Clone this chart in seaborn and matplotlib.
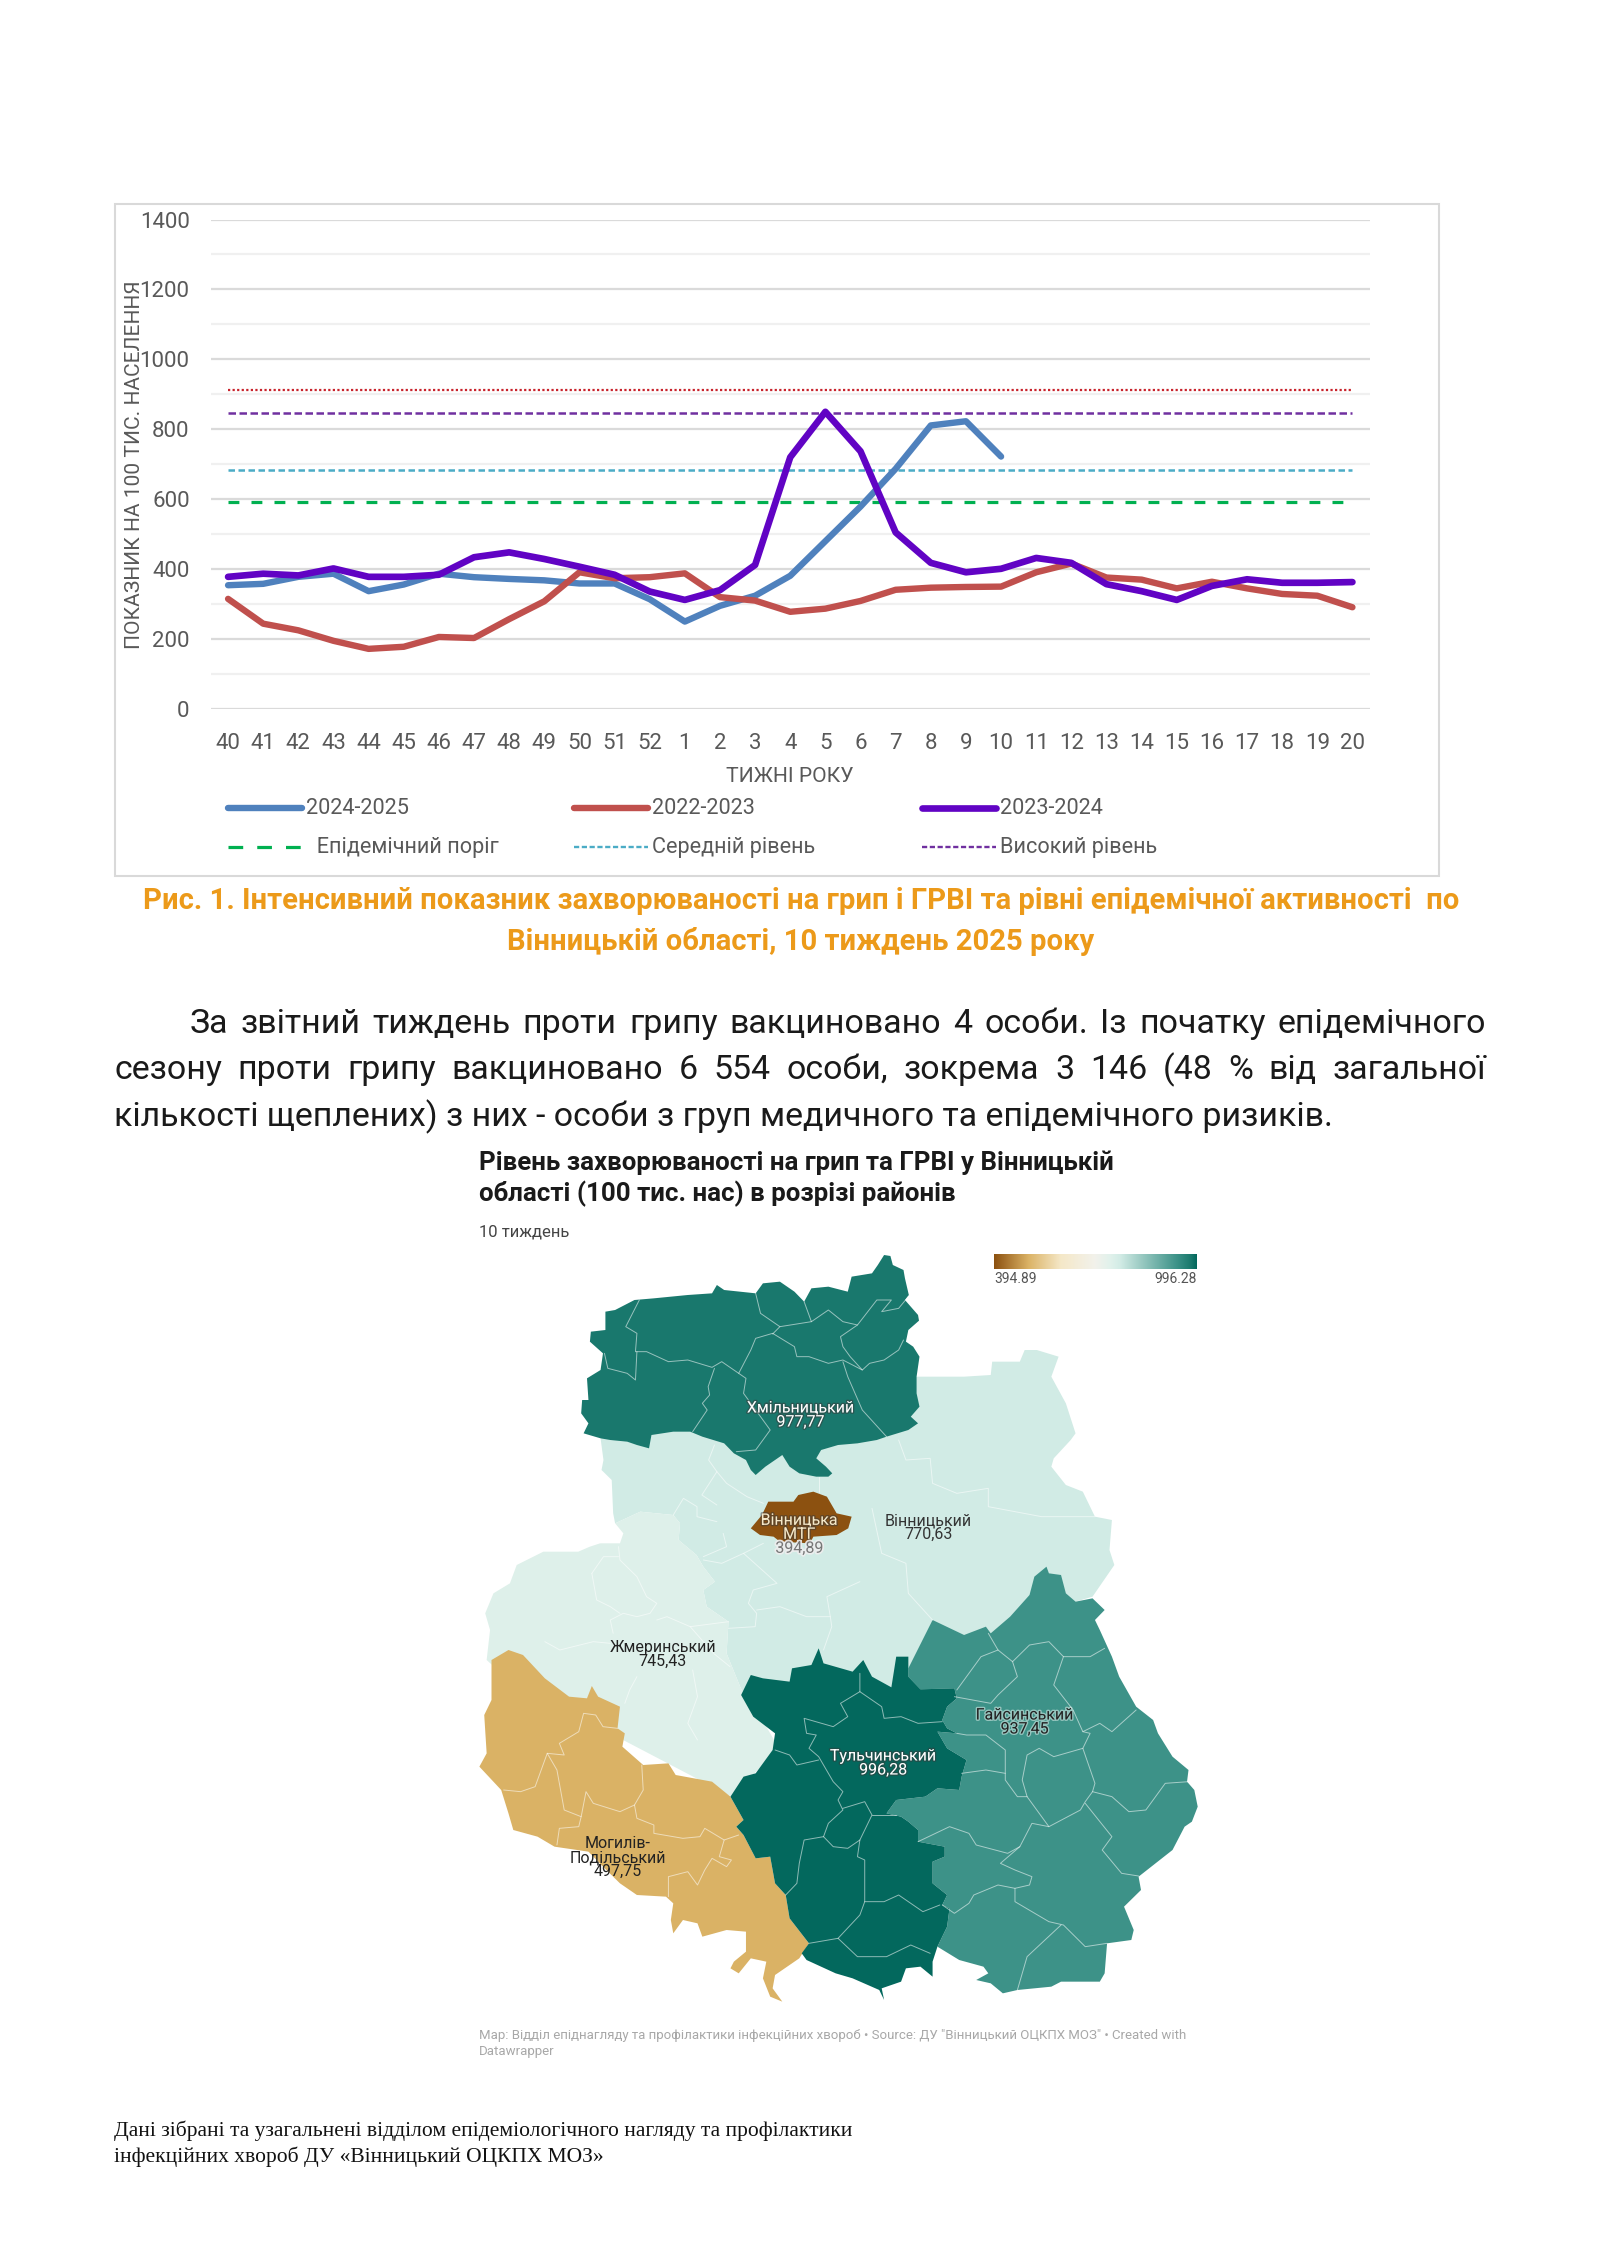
import matplotlib
matplotlib.use("Agg")
import matplotlib.pyplot as plt
import matplotlib.patheffects as pe
from matplotlib.colors import LinearSegmentedColormap, Normalize
from matplotlib.patches import Rectangle
from matplotlib.ticker import MultipleLocator
import numpy as np
import seaborn as sns

# --- chart data ---
weeks = [40, 41, 42, 43, 44, 45, 46, 47, 48, 49, 50, 51, 52, 1, 2, 3, 4, 5, 6, 7, 8, 9, 10,
         11, 12, 13, 14, 15, 16, 17, 18, 19, 20]
season_2425 = [354, 358, 378, 387, 337, 356, 387, 377, 372, 368, 359, 359, 314, 250, 295, 324, 381,
               480, 579, 687, 811, 823, 722]
season_2223 = [315, 244, 225, 195, 172, 178, 206, 203, 257, 308, 391, 374, 377, 388, 320, 310, 278,
               287, 309, 341, 347, 349, 350, 391, 416, 376, 370, 345, 364, 345, 329, 324, 291]
season_2324 = [378, 387, 382, 402, 378, 378, 384, 434, 448, 429, 407, 384, 336, 312, 340, 412, 720,
               850, 737, 505, 418, 391, 401, 432, 418, 357, 337, 312, 352, 371, 361, 361, 363]
epi_threshold = 591
mid_level = 683
high_level = 848
very_high_level = 912

# --- map data: outlines in map units ---
districts = ["Хмільницький", "Вінницька\nМТГ", "Вінницький", "Жмеринський", "Тульчинський",
             "Гайсинський", "Могилів-\nПодільський"]
district_values = [977.77, 394.89, 770.63, 745.43, 996.28, 937.45, 497.75]

vinnytskyi = [(945, 740), (1040, 740), (1095, 735), (1098, 695), (1155, 695), (1165, 660), (1190, 660),
              (1235, 680), (1220, 740), (1250, 820), (1270, 910), (1260, 930), (1225, 985), (1220, 1010),
              (1250, 1065), (1285, 1085), (1310, 1160), (1345, 1170), (1340, 1260), (1350, 1305),
              (1305, 1400), (1270, 1415), (1250, 1480), (1000, 1700), (800, 1700), (585, 1690), (578, 1670),
              (550, 1570), (554, 1475), (509, 1430), (502, 1380), (526, 1355), (502, 1310), (488, 1275),
              (451, 1230), (454, 1180), (440, 1155), (372, 1145), (320, 1180), (316, 1150), (313, 1050),
              (292, 1020), (296, 990), (290, 925), (600, 800)]
zhmerynskyi = [(320, 1180), (337, 1210), (330, 1240), (289, 1240), (268, 1250), (244, 1265), (172, 1265),
               (117, 1305), (103, 1360), (69, 1390), (52, 1450), (62, 1500), (55, 1590), (100, 1650), (560, 2000),
               (600, 1940), (660, 1860), (620, 1760), (590, 1700), (585, 1690), (578, 1670), (550, 1570),
               (554, 1475), (509, 1430), (502, 1380), (526, 1355), (502, 1310), (488, 1275), (451, 1230),
               (454, 1180), (440, 1155), (372, 1145)]
khmilnytskyi = [(875, 375), (888, 378), (893, 405), (915, 420), (918, 445), (926, 495), (918, 510), (930, 530),
                (945, 555), (947, 572), (925, 600), (920, 635), (935, 650), (948, 680), (942, 740), (942, 790),
                (948, 830), (930, 860), (945, 880), (925, 900), (880, 920), (860, 930), (820, 940), (780, 945),
                (745, 960), (735, 985), (755, 1010), (768, 1030), (760, 1040), (735, 1040), (700, 1030),
                (680, 1010), (665, 975), (650, 990), (630, 1010), (610, 1035), (600, 1020), (590, 990),
                (565, 970), (545, 940), (500, 920), (475, 905), (440, 905), (395, 915), (390, 955), (365, 945),
                (345, 935), (310, 930), (290, 925), (255, 910), (265, 880), (250, 850), (252, 810), (265, 810),
                (262, 745), (290, 720), (295, 670), (268, 635), (270, 605), (300, 600), (300, 545), (320, 540),
                (360, 510), (400, 505), (470, 495), (520, 490), (530, 465), (545, 480), (610, 490), (625, 460),
                (660, 455), (690, 485), (710, 515), (725, 475), (760, 470), (800, 485), (808, 440), (850, 430),
                (862, 405)]
vinnytsia_mtg = [(688, 1080), (698, 1095), (729, 1085), (757, 1100), (777, 1150), (808, 1160), (801, 1195),
                 (777, 1215), (729, 1220), (722, 1240), (660, 1235), (647, 1220), (619, 1215), (600, 1195),
                 (623, 1155), (636, 1115), (688, 1115), (698, 1095)]
mohyliv = [(65, 1590), (100, 1560), (130, 1575), (175, 1645), (225, 1700), (262, 1705), (272, 1668), (285, 1700),
           (330, 1730), (325, 1795), (340, 1810), (335, 1850), (378, 1905), (430, 1900), (445, 1935), (520, 1955),
           (558, 2000), (585, 2070), (570, 2090), (585, 2115), (610, 2185), (640, 2180), (650, 2260), (672, 2295),
           (680, 2365), (720, 2440), (700, 2485), (670, 2515), (650, 2535), (645, 2575), (665, 2615), (640, 2600),
           (625, 2545), (632, 2495), (600, 2485), (575, 2530), (558, 2515), (565, 2495), (590, 2465), (590, 2405),
           (550, 2400), (500, 2420), (490, 2380), (460, 2370), (440, 2410), (435, 2370), (440, 2320), (425, 2300),
           (365, 2295), (330, 2260), (295, 2210), (265, 2165), (195, 2150), (160, 2120), (110, 2100), (100, 2050),
           (85, 1980), (40, 1910), (55, 1870), (50, 1755), (65, 1710)]
tulchyn = [(740, 1555), (750, 1600), (810, 1625), (832, 1590), (850, 1640), (890, 1672), (900, 1580), (925, 1580),
           (925, 1640), (950, 1678), (1020, 1675), (1025, 1705), (1005, 1730), (995, 1770), (1005, 1795),
           (1025, 1810), (985, 1805), (1005, 1855), (1045, 1890), (1035, 1940), (1030, 1980), (985, 1975),
           (960, 2000), (900, 2010), (880, 2050), (910, 2060), (925, 2075), (945, 2100), (945, 2135), (1000, 2150),
           (1000, 2180), (975, 2195), (975, 2260), (1005, 2295), (995, 2325), (1010, 2335), (1005, 2390),
           (985, 2450), (975, 2495), (975, 2540), (950, 2510), (920, 2515), (910, 2555), (870, 2575), (875, 2610),
           (865, 2580), (810, 2545), (775, 2530), (715, 2490), (705, 2470), (720, 2440), (680, 2365), (672, 2295),
           (650, 2260), (640, 2180), (610, 2185), (585, 2115), (570, 2090), (585, 2070), (558, 2000), (585, 1940),
           (610, 1930), (645, 1860), (650, 1810), (605, 1760), (580, 1695), (600, 1635), (625, 1645), (680, 1655),
           (685, 1615), (725, 1605)]
haisyn = [(925, 1615), (975, 1470), (1040, 1515), (1085, 1490), (1095, 1510), (1135, 1460), (1175, 1395),
          (1185, 1340), (1210, 1310), (1215, 1330), (1240, 1335), (1250, 1390), (1270, 1415), (1305, 1405),
          (1330, 1440), (1310, 1470), (1320, 1500), (1345, 1580), (1360, 1640), (1395, 1730), (1430, 1770),
          (1440, 1810), (1470, 1880), (1503, 1920), (1500, 1955), (1515, 1980), (1522, 2030), (1510, 2075),
          (1495, 2090), (1470, 2160), (1400, 2240), (1405, 2280), (1370, 2330), (1390, 2400), (1385, 2430),
          (1335, 2440), (1330, 2530), (1320, 2555), (1240, 2555), (1220, 2570), (1150, 2580), (1120, 2590),
          (1095, 2560), (1065, 2550), (1090, 2530), (1080, 2510), (1030, 2490), (985, 2450), (1005, 2390),
          (1010, 2335), (995, 2325), (1005, 2295), (975, 2260), (975, 2195), (1000, 2180), (1000, 2150),
          (945, 2135), (945, 2100), (925, 2075), (910, 2060), (880, 2050), (900, 2010), (960, 2000), (985, 1975),
          (1030, 1980), (1035, 1940), (1045, 1890), (1005, 1855), (985, 1805), (1025, 1810), (1005, 1795),
          (995, 1770), (1005, 1730), (1025, 1705), (1020, 1675), (950, 1678), (925, 1640)]
# order matters, later ones lie on top
district_shapes = [(vinnytskyi, 770.63), (zhmerynskyi, 745.43), (khmilnytskyi, 977.77), (mohyliv, 497.75),
                   (haisyn, 937.45), (tulchyn, 996.28), (vinnytsia_mtg, 394.89)]

inner_borders = [
    # Хмільницький
    [(370, 510), (342, 590), (365, 610), (362, 665), (385, 665), (430, 695), (470, 690), (520, 712), (540, 695),
     (575, 730), (600, 660), (610, 625), (645, 610), (690, 650), (695, 680), (720, 680), (760, 700), (790, 690),
     (830, 720), (845, 700), (875, 690), (905, 660), (915, 630)],
    [(298, 670), (305, 715), (345, 730), (362, 750), (365, 665)],
    [(525, 715), (512, 770), (515, 795), (500, 820), (510, 840), (480, 905)],
    [(790, 695), (800, 740), (830, 840), (880, 920)],
    [(610, 490), (620, 550), (660, 590), (645, 612)],
    [(660, 590), (725, 575), (760, 540), (790, 575), (820, 585), (785, 620), (790, 650), (805, 680), (830, 720)],
    [(725, 575), (710, 515)],
    [(820, 585), (860, 510), (890, 510), (870, 545), (905, 535), (925, 500)],
    [(575, 730), (590, 745), (585, 790), (640, 900), (610, 960), (570, 965)],
    # Могилів-Подільський
    [(90, 1980), (125, 1985), (155, 1970), (180, 1870), (215, 1875), (205, 1840), (245, 1805), (255, 1750),
     (280, 1755), (295, 1790), (325, 1795)],
    [(180, 1870), (200, 1920), (215, 2040), (250, 2060), (245, 2090), (205, 2095), (200, 2145)],
    [(250, 2060), (260, 1985), (275, 2020), (330, 2045), (360, 2025), (378, 1980), (375, 1905)],
    [(360, 2025), (365, 2065), (400, 2085), (400, 2110), (420, 2115), (460, 2125), (495, 2120), (505, 2095),
     (545, 2130), (575, 2115)],
    [(545, 2130), (535, 2180), (560, 2190), (550, 2210), (520, 2185), (505, 2220), (490, 2265), (470, 2225),
     (430, 2240), (430, 2300)],
    # Тульчинський
    [(825, 1630), (825, 1685), (785, 1720), (800, 1760), (770, 1790), (710, 1765), (715, 1810), (735, 1815),
     (720, 1855), (740, 1880), (770, 1955), (790, 1985), (780, 2010), (790, 2040), (760, 2080), (750, 2120),
     (770, 2150), (800, 2155), (825, 2130), (850, 2055), (835, 2015), (790, 2035)],
    [(650, 1860), (680, 1875), (695, 1905), (740, 1890)],
    [(750, 2120), (710, 2130), (700, 2200), (695, 2260), (672, 2295)],
    [(825, 2130), (820, 2180), (835, 2190), (835, 2315), (875, 2315), (905, 2295), (955, 2345), (990, 2325)],
    [(835, 2315), (825, 2355), (780, 2425), (720, 2440)],
    [(780, 2425), (820, 2480), (880, 2480), (930, 2445), (970, 2470)],
    [(825, 1685), (870, 1730), (875, 1765), (910, 1760), (945, 1780), (995, 1775)],
    [(850, 2055), (900, 2055)],
    # Гайсинський
    [(1090, 1510), (1110, 1560), (1140, 1595), (1175, 1545), (1215, 1535), (1245, 1580), (1300, 1580), (1330, 1555)],
    [(1140, 1595), (1150, 1640), (1110, 1695), (1095, 1720), (1020, 1700)],
    [(1025, 1680), (1040, 1650), (1075, 1580), (1110, 1560)],
    [(1245, 1580), (1225, 1665), (1265, 1740), (1285, 1805), (1320, 1780), (1345, 1805), (1395, 1740)],
    [(1285, 1805), (1300, 1810), (1285, 1855), (1310, 1960), (1305, 1985), (1345, 2000), (1380, 2045), (1415, 2040),
     (1455, 1960), (1503, 1955)],
    [(1285, 1855), (1225, 1880), (1195, 1855), (1170, 1875), (1160, 1950), (1170, 2000), (1215, 2090), (1280, 2040),
     (1290, 2015), (1305, 1985)],
    [(1290, 2020), (1345, 2120), (1325, 2160), (1365, 2230), (1400, 2238)],
    [(1215, 2090), (1180, 2080), (1155, 2150), (1115, 2200), (1145, 2220), (1180, 2240), (1175, 2265), (1145, 2275),
     (1145, 2315), (1215, 2375), (1245, 2385), (1290, 2450), (1335, 2440)],
    [(1240, 2385), (1170, 2480), (1150, 2580)],
    [(1145, 2275), (1110, 2265), (1060, 2295), (1050, 2320), (1020, 2350), (995, 2325)],
    [(945, 2135), (1010, 2090), (1050, 2110), (1065, 2145), (1130, 2170), (1155, 2150)],
    [(1035, 1930), (1085, 1920), (1125, 1930), (1125, 1860), (1085, 1815), (1045, 1815), (1025, 1810)],
    [(1125, 1930), (1125, 1950), (1150, 2000), (1170, 2000)],
    # Вінницький
    [(525, 945), (513, 990), (530, 1025), (499, 1095), (530, 1125)],
    [(530, 1025), (550, 1060), (592, 1100), (626, 1120)],
    [(440, 1155), (461, 1105), (489, 1130), (489, 1160), (530, 1175)],
    [(543, 1210), (550, 1250), (502, 1280)],
    [(502, 1290), (540, 1300), (585, 1270), (626, 1240)],
    [(585, 1270), (654, 1360), (605, 1380), (595, 1420), (612, 1450), (609, 1490), (554, 1495)],
    [(612, 1440), (660, 1430), (715, 1460), (764, 1460), (757, 1400), (825, 1355)],
    [(764, 1460), (767, 1490), (750, 1560)],
    [(905, 930), (920, 990), (970, 985), (975, 1060), (1025, 1090), (1090, 1075), (1090, 1130), (1200, 1160),
     (1310, 1160)],
    [(740, 1040), (740, 1085)],
    [(850, 1135), (870, 1270), (920, 1300), (925, 1390), (975, 1470)],
    # Жмеринський
    [(327, 1250), (330, 1290), (365, 1340), (385, 1400), (406, 1420), (392, 1450), (365, 1460), (337, 1450),
     (310, 1470), (316, 1510)],
    [(272, 1330), (296, 1280), (327, 1280)],
    [(272, 1330), (282, 1410), (310, 1430), (330, 1450)],
    [(175, 1535), (206, 1560), (275, 1535), (310, 1540)],
    [(406, 1470), (427, 1460), (475, 1490), (554, 1475)],
    [(475, 1490), (523, 1570), (557, 1610)],
    [(365, 1640), (350, 1680), (340, 1720)],
    [(480, 1620), (490, 1700), (470, 1780), (490, 1830)],
]

# label centres in map units
label_xy = [(703, 855), (700, 1213), (966, 1193), (418, 1574), (873, 1899), (1165, 1776), (325, 2183)]

scale_stops = [(0.0, "#8C5110"), (0.17, "#DBB366"), (0.33, "#F5E8C8"), (0.5, "#F2F2EC"),
               (0.58, "#DFF1EB"), (0.62, "#D3ECE6"), (0.9, "#3E9389"), (0.97, "#1B7A6E"), (1.0, "#03685D")]

# --- text ---
caption_lines = ["Рис. 1. Інтенсивний показник захворюваності на грип і ГРВІ та рівні епідемічної активності  по",
                 "Вінницькій області, 10 тиждень 2025 року"]
body_lines = ["За звітний тиждень проти грипу вакциновано 4 особи. Із початку епідемічного",
              "сезону проти грипу вакциновано 6 554 особи, зокрема 3 146 (48 % від загальної",
              "кількості щеплених) з них - особи з груп медичного та епідемічного ризиків."]
map_title = ["Рівень захворюваності на грип та ГРВІ у Вінницькій", "області (100 тис. нас) в розрізі районів"]
map_notes = ["Map: Відділ епіднагляду та профілактики інфекційних хвороб • Source: ДУ \"Вінницький ОЦКПХ МОЗ\" • Created with",
             "Datawrapper"]
footer_lines = ["Дані зібрані та узагальнені відділом епідеміологічного нагляду та профілактики",
                "інфекційних хвороб ДУ «Вінницький ОЦКПХ МОЗ»"]

sns.set_theme(style="white")
plt.rcParams["font.family"] = ["Roboto", "DejaVu Sans"]

W, H = 1600, 2262
GREY = "#595959"


def px_axes(fig, x0, y0, x1, y1, **kw):
    return fig.add_axes([x0 / W, 1 - y1 / H, (x1 - x0) / W, (y1 - y0) / H], **kw)


def justified(ax, fig, line, x0, x1, y, **kw):
    # word by word so the line fills the whole column
    renderer = fig.canvas.get_renderer()
    words = line.split(" ")
    items = [ax.text(0, y, w, va="center", **kw) for w in words]
    widths = [t.get_window_extent(renderer).width for t in items]
    gap = (x1 - x0 - sum(widths)) / (len(words) - 1)
    x = x0
    for t, w in zip(items, widths):
        t.set_x(x)
        x += w + gap


fig = plt.figure(figsize=(16, 22.62), dpi=100)
page = fig.add_axes([0, 0, 1, 1])
page.set_xlim(0, W)
page.set_ylim(H, 0)
page.axis("off")

page.add_patch(Rectangle((114.5, 204), 1324.5, 672, fill=False, ec="#D9D9D9", lw=1.5))

# --- line chart ---
ax = px_axes(fig, 210.5, 219.5, 1370, 709)
ax.patch.set_alpha(0)
pos = np.arange(len(weeks))

ax.set_axisbelow(True)
ax.yaxis.set_major_locator(MultipleLocator(200))
ax.yaxis.set_minor_locator(MultipleLocator(100))
ax.grid(which="major", axis="y", color="#DADADA", lw=1.6)
ax.grid(which="minor", axis="y", color="#F0F0F0", lw=1.6)

for level, col, style, lw in [(very_high_level, "#C8232C", (0, (1, 1.05)), 1.6),
                              (high_level, "#7030A0", (0, (3, 1.4)), 1.8),
                              (mid_level, "#4BACC6", (0, (2.6, 1.4)), 1.8),
                              (epi_threshold, "#00B050", (0, (3.4, 3.8)), 2.3)]:
    sns.lineplot(x=pos, y=[level] * len(pos), ax=ax, color=col, lw=lw, linestyle=style)

sns.lineplot(x=pos[:len(season_2425)], y=season_2425, ax=ax, color="#4F81BD", lw=4.6, solid_capstyle="round")
sns.lineplot(x=pos, y=season_2223, ax=ax, color="#C0504D", lw=4.6, solid_capstyle="round")
sns.lineplot(x=pos, y=season_2324, ax=ax, color="#6103C4", lw=4.8, solid_capstyle="round")

ax.set_xlim(-0.5, len(weeks) - 0.5)
ax.set_ylim(0, 1400)
ax.set_xticks(pos, [str(w) for w in weeks])
ax.set_yticks(range(0, 1401, 200))
ax.tick_params(axis="both", which="both", length=0, labelsize=16, labelcolor=GREY)
ax.tick_params(axis="x", pad=17)
ax.tick_params(axis="y", pad=15)
sns.despine(ax=ax, left=True, bottom=True, top=True, right=True)

page.text(134, 465, "ПОКАЗНИК НА 100 ТИС. НАСЕЛЕННЯ", rotation=90, ha="center", va="center",
          fontsize=15.1, color=GREY, zorder=5)
page.text(790, 777, "ТИЖНІ РОКУ", ha="center", va="center", fontsize=15.2, color=GREY)

# legend by hand, three fixed columns like in the source
legend_rows = [
    [("2024-2025", "#4F81BD", "-", 4.6), ("2022-2023", "#C0504D", "-", 4.6), ("2023-2024", "#6103C4", "-", 4.8)],
    [("  Епідемічний поріг", "#00B050", (0, (4.6, 4.4)), 2.3), ("Середній рівень", "#4BACC6", (0, (2.2, 1.1)), 1.7),
     ("Високий рівень", "#7030A0", (0, (2.2, 1.1)), 1.7)],
]
for row, yy in zip(legend_rows, [808, 847]):
    for (label, col, style, lw), xx in zip(row, [228, 574, 922]):
        page.plot([xx, xx + 74], [yy, yy], color=col, ls=style, lw=lw, solid_capstyle="round")
        page.text(xx + 78, yy, label, va="center", fontsize=15.6, color=GREY)

# --- text blocks ---
for line, yy in zip(caption_lines, [901, 941]):
    page.text(801, yy, line, ha="center", va="center", fontsize=21.1, fontweight="bold", color="#EC9A1A")

justified(page, fig, body_lines[0], 190, 1486, 1024, fontsize=24.4, color="#1A1A1A")
justified(page, fig, body_lines[1], 114, 1486, 1070, fontsize=24.4, color="#1A1A1A")
page.text(114, 1117, body_lines[2], va="center", fontsize=24.4, color="#1A1A1A")

for line, yy in zip(map_title, [1163, 1194]):
    page.text(479, yy, line, va="center", fontsize=18.6, fontweight="bold", color="#1A1A1A")
page.text(479, 1232, "10 тиждень", va="center", fontsize=12, color="#444444")
for line, yy in zip(map_notes, [2035, 2051]):
    page.text(479, yy, line, va="center", fontsize=9.5, color="#A8A8A8")
for line, yy in zip(footer_lines, [2131, 2157]):
    page.text(114, yy, line, va="center", fontsize=15.5, color="#111111", family="Liberation Serif")

# --- map ---
cmap = LinearSegmentedColormap.from_list("flu", scale_stops)
norm = Normalize(394.89, 996.28)

mp = px_axes(fig, 460, 1130, 1220, 2090)
mp.patch.set_alpha(0)
mp.set_xlim(0, 1568)
mp.set_ylim(2880, 0)
mp.axis("off")
for shape, value in district_shapes:
    xs, ys = zip(*shape)
    mp.fill(xs, ys, color=cmap(norm(value)), lw=0)
for border in inner_borders:
    xs, ys = zip(*border)
    mp.plot(xs, ys, color="white", lw=0.7, alpha=0.55)

halo_dark = [pe.withStroke(linewidth=2, foreground="#3A3A3A", alpha=0.5)]
halo_light = [pe.withStroke(linewidth=2, foreground="#DDEEEA", alpha=0.55)]
halo_value = [pe.withStroke(linewidth=2.5, foreground="#EEEEEE", alpha=0.9)]
name_cols = ["white", "#F5E8C8", "#333333", "#222222", "white", "#222222", "#222222"]
value_cols = ["white", "#777777", "#333333", "#222222", "white", "#222222", "#222222"]
LINE_STEP = 42  # map units between label lines
for name, value, (lx, ly), ncol, vcol in zip(districts, district_values, label_xy, name_cols, value_cols):
    lines = name.split("\n") + [f"{value:.2f}".replace(".", ",")]
    top = ly - LINE_STEP * (len(lines) - 1) / 2
    for i, line in enumerate(lines):
        is_value = i == len(lines) - 1
        t = mp.text(lx, top + i * LINE_STEP, line, ha="center", va="center", fontsize=11.5,
                    color=vcol if is_value else ncol)
        if name.startswith("Вінницька") and is_value:
            t.set_path_effects(halo_value)
        elif ncol in ("white", "#F5E8C8"):
            t.set_path_effects(halo_dark)
        elif name == "Гайсинський":
            t.set_path_effects(halo_light)

# colour scale legend
cb = px_axes(fig, 994, 1254, 1197, 1269)
cb.imshow(np.linspace(0, 1, 256)[None, :], cmap=cmap, aspect="auto")
cb.axis("off")
page.text(994, 1279, "394.89", va="center", fontsize=10, color="#555555")
page.text(1197, 1279, "996.28", ha="right", va="center", fontsize=10, color="#555555")

fig.savefig("out.png", dpi=100)
